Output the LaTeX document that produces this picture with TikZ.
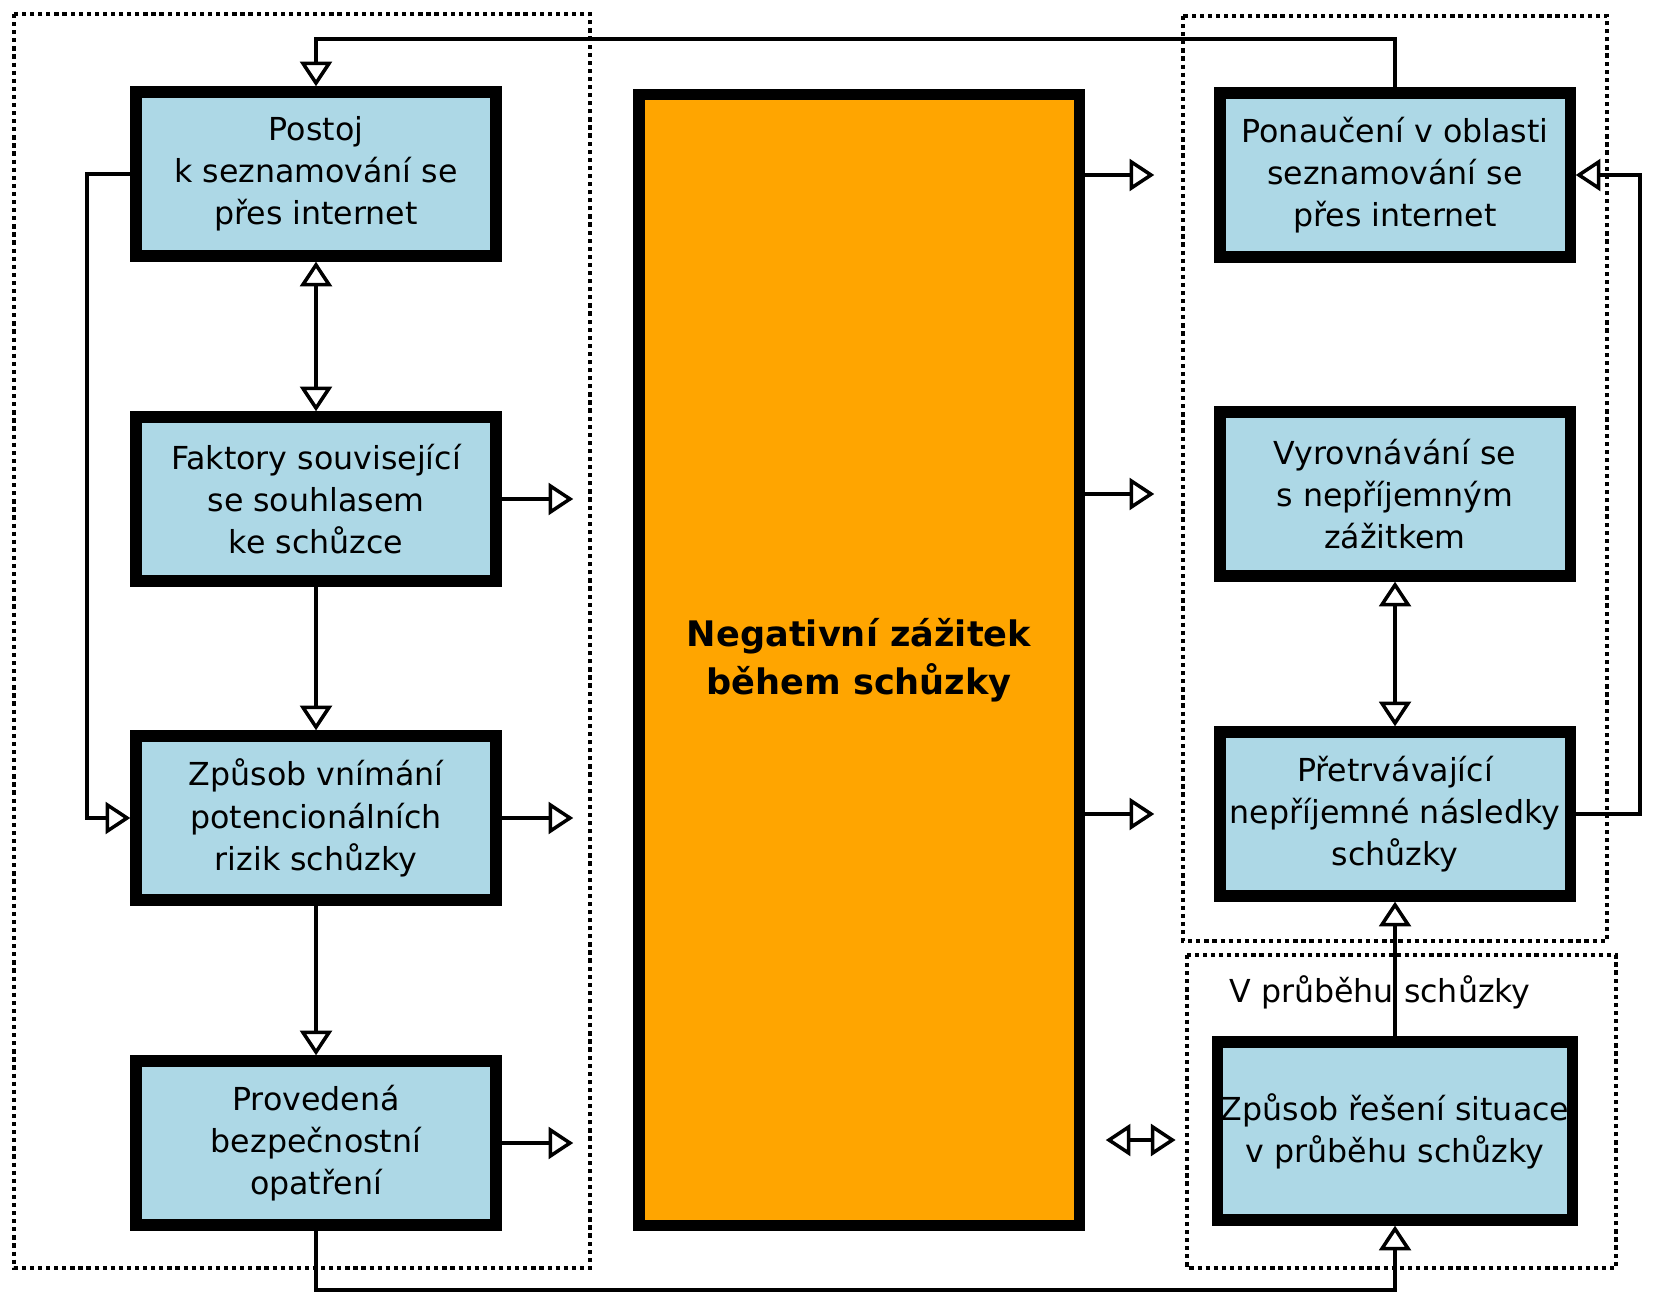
\documentclass[tikz,border=0pt]{standalone}
\usepackage{fontspec}
\setmainfont{DejaVu Sans}
\usepackage{tikz}
\usetikzlibrary{arrows.meta,positioning}
\definecolor{boxblue}{HTML}{ADD8E6}
\definecolor{negorange}{HTML}{FFA500}

\begin{document}
\begin{tikzpicture}[x=0.01cm,y=-0.01cm,
	box/.style={rectangle,draw,line width=3.2pt,fill=boxblue,minimum width=3.6cm,minimum height=1.64cm,align=center,inner sep=1pt,font=\fontsize{9}{12}\selectfont},
	conn/.style={line width=1pt,-{Triangle[open,length=7pt,width=9pt]}},
	dbl/.style={line width=1pt,{Triangle[open,length=7pt,width=9pt]}-{Triangle[open,length=7pt,width=9pt]}},
	grp/.style={line width=1.2pt,dash pattern=on 1.2pt off 1.1pt}]
\useasboundingbox (0,0) rectangle (1667,1295);
\draw[grp] (14,14) rectangle (590,1268);
\draw[grp] (1183,16) rectangle (1607,941);
\draw[grp] (1187,955) rectangle (1616,1268);

\node [box] (postoj) at (316,174) {Postoj\\k seznamování se\\přes internet};
\node [box] (faktory) at (316,499) {Faktory související\\se souhlasem\\ke schůzce};
\node [box] (vnimani) at (316,818) {Způsob vnímání\\potencionálních\\rizik schůzky};
\node [box] (opatreni) at (316,1143) {Provedená\\bezpečnostní\\opatření};
\node [rectangle,draw,line width=3.2pt,fill=negorange,minimum width=4.4cm,minimum height=11.3cm,align=center,font=\fontsize{10}{13.5}\selectfont\bfseries] (neg) at (859,660) {Negativní zážitek\\během schůzky};
\node [box,minimum width=3.5cm] (ponauceni) at (1395,175) {Ponaučení v oblasti\\seznamování se\\přes internet};
\node [box,minimum width=3.5cm] (vyrovnani) at (1395,494) {Vyrovnávání se\\s nepříjemným\\zážitkem};
\node [box,minimum width=3.5cm] (nasledky) at (1395,814) {Přetrvávající\\nepříjemné následky\\schůzky};
\node [box,minimum width=3.55cm,minimum height=1.78cm] (reseni) at (1395,1131) {Způsob řešení situace\\v průběhu schůzky};
\node [font=\fontsize{9}{12}\selectfont] (prubeh) at (1380,992) {V průběhu schůzky};

\coordinate (top) at (0,39);
\coordinate (lx) at (87,0);
\coordinate (rx) at (1640,0);
\coordinate (bot) at (0,1290);
\coordinate (mid) at ([yshift=-0.09cm]reseni.west);

\draw[conn] (ponauceni.north) -- (ponauceni.north |- top) -| (postoj.north);
\draw[dbl] (postoj) -- (faktory);
\draw[conn] (faktory) -- (vnimani);
\draw[conn] (vnimani) -- (opatreni);
\draw[conn] (postoj.west) -- (postoj.west -| lx) |- (vnimani.west);
\draw[conn,shorten >=0.6cm] (faktory.east) -- (faktory.east -| neg.west);
\draw[conn,shorten >=0.6cm] (vnimani.east) -- (vnimani.east -| neg.west);
\draw[conn,shorten >=0.6cm] (opatreni.east) -- (opatreni.east -| neg.west);
\draw[conn] (opatreni.south) -- (opatreni.south |- bot) -| (reseni.south);
\draw[conn,shorten >=0.6cm] (neg.east |- ponauceni.west) -- (ponauceni.west);
\draw[conn,shorten >=0.6cm] (neg.east |- vyrovnani.west) -- (vyrovnani.west);
\draw[conn,shorten >=0.6cm] (neg.east |- nasledky.west) -- (nasledky.west);
\draw[dbl,shorten <=0.21cm,shorten >=0.36cm] (neg.east |- mid) -- (mid);
\draw[dbl] (vyrovnani) -- (nasledky);
\draw[conn] (reseni) -- (nasledky);
\draw[conn] (nasledky.east) -- (nasledky.east -| rx) |- (ponauceni.east);
\end{tikzpicture}
\end{document}
